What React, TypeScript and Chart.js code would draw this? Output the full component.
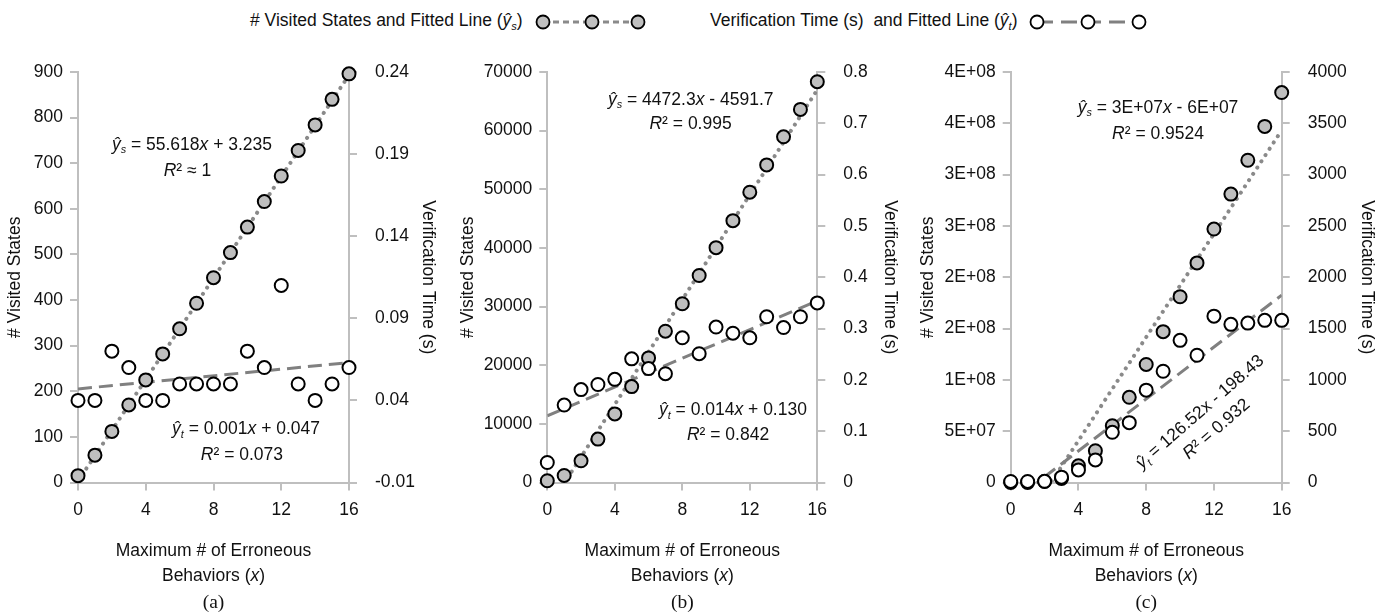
import React, { useEffect, useRef } from 'react';
import { Chart, registerables } from 'chart.js';

Chart.register(...registerables);

const FONT = "'Liberation Sans', Arial, Helvetica, sans-serif";
const SERIF = "'Liberation Serif', 'Times New Roman', serif";

// ---------- data ----------
const xValues = [0, 1, 2, 3, 4, 5, 6, 7, 8, 9, 10, 11, 12, 13, 14, 15, 16];

const statesA = [15, 60, 112, 170, 225, 282, 337, 393, 449, 504, 560, 616, 672, 728, 784, 840, 896];
const timeA = [0.04, 0.04, 0.07, 0.06, 0.04, 0.04, 0.05, 0.05, 0.05, 0.05, 0.07, 0.06, 0.11, 0.05, 0.04, 0.05, 0.06];

const statesB = [300, 1200, 3700, 7400, 11700, 16350, 21250, 25800, 30480, 35300, 40050, 44650, 49500, 54160, 58950, 63620, 68340];
const timeB = [0.039, 0.151, 0.181, 0.191, 0.201, 0.241, 0.222, 0.212, 0.282, 0.251, 0.303, 0.291, 0.282, 0.323, 0.302, 0.323, 0.35];

const statesC = [0, 0, 1e6, 4e6, 1.63e7, 3.1e7, 5.53e7, 8.3e7, 1.15e8, 1.47e8, 1.81e8, 2.14e8, 2.47e8, 2.81e8, 3.14e8, 3.47e8, 3.8e8];
const timeC = [10, 10, 12, 52, 123, 220, 489, 583, 900, 1084, 1385, 1240, 1621, 1541, 1553, 1580, 1580];

// fitted lines: [slope, intercept]
const fitStatesA = [55.618, 3.235];
const fitTimeA = [0.001, 0.047];
const fitStatesB = [4472.3, -4591.7];
const fitTimeB = [0.014, 0.13];
const fitStatesC = [2.52e7, -6.0e7]; // as drawn (label is rounded)
const fitTimeC = [126.52, -198.43];

// tick labels
const xTickLabels = ['0', '4', '8', '12', '16'];
const leftTicksA = ['0', '100', '200', '300', '400', '500', '600', '700', '800', '900'];
const rightTicksA = ['-0.01', '0.04', '0.09', '0.14', '0.19', '0.24'];
const leftTicksB = ['0', '10000', '20000', '30000', '40000', '50000', '60000', '70000'];
const rightTicksB = ['0', '0.1', '0.2', '0.3', '0.4', '0.5', '0.6', '0.7', '0.8'];
const leftTicksC = ['0', '5E+07', '1E+08', '2E+08', '2E+08', '3E+08', '3E+08', '4E+08', '4E+08'];
const rightTicksC = ['0', '500', '1000', '1500', '2000', '2500', '3000', '3500', '4000'];

const leftTitle = '# Visited States';
const rightTitle = 'Verification Time (s)';
const xTitle1 = 'Maximum # of Erroneous';
const captions = ['(a)', '(b)', '(c)'];

type Run = { t: string; i?: boolean; sub?: boolean };
type Note = { runs: Run[]; x: number; y: number; angle?: number };

const eqS = (rest: Run[]): Run[] => [{ t: 'ŷ', i: true }, { t: 's', i: true, sub: true }, ...rest];
const eqT = (rest: Run[]): Run[] => [{ t: 'ŷ', i: true }, { t: 't', i: true, sub: true }, ...rest];
const r2 = (v: string): Run[] => [{ t: 'R', i: true }, { t: v }];

const notesA: Note[] = [
  { runs: eqS([{ t: ' = 55.618' }, { t: 'x', i: true }, { t: ' + 3.235' }]), x: 6.73, y: 743 },
  { runs: r2('² ≈ 1'), x: 6.46, y: 686 },
  { runs: eqT([{ t: ' = 0.001' }, { t: 'x', i: true }, { t: ' + 0.047' }]), x: 9.92, y: 120 },
  { runs: r2('² = 0.073'), x: 9.68, y: 63 },
];
const notesB: Note[] = [
  { runs: eqS([{ t: ' = 4472.3' }, { t: 'x', i: true }, { t: ' - 4591.7' }]), x: 8.5, y: 65520 },
  { runs: r2('² = 0.995'), x: 8.49, y: 61360 },
  { runs: eqT([{ t: ' = 0.014' }, { t: 'x', i: true }, { t: ' + 0.130' }]), x: 11.0, y: 12570 },
  { runs: r2('² = 0.842'), x: 10.71, y: 8300 },
];
const notesC: Note[] = [
  { runs: eqS([{ t: ' = 3E+07' }, { t: 'x', i: true }, { t: ' - 6E+07' }]), x: 8.7, y: 3.662e8 },
  { runs: r2('² = 0.9524'), x: 8.7, y: 3.406e8 },
  { runs: eqT([{ t: ' = 126.52x - 198.43' }]), x: 11.13, y: 6.97e7, angle: -41 },
  { runs: r2('² = 0.932'), x: 12.1, y: 5.31e7, angle: -41 },
];

type Panel = {
  left: number; width: number; plotLeft: number; plotRight: number;
  lTitlePad: number; rTitlePad: number;
  lMax: number; lStep: number; lTicks: string[];
  rMin: number; rMax: number; rStep: number; rTicks: string[];
  states: number[]; time: number[]; fitS: number[]; fitT: number[];
  notes: Note[]; caption: string;
};

const panels: Panel[] = [
  { left: 0, width: 455, plotLeft: 78, plotRight: 349, lTitlePad: 4.5, rTitlePad: 16.2,
    lMax: 900, lStep: 100, lTicks: leftTicksA, rMin: -0.01, rMax: 0.24, rStep: 0.05, rTicks: rightTicksA,
    states: statesA, time: timeA, fitS: fitStatesA, fitT: fitTimeA, notes: notesA, caption: captions[0] },
  { left: 455, width: 460, plotLeft: 92.3, plotRight: 362.3, lTitlePad: 2.8, rTitlePad: 14.5,
    lMax: 70000, lStep: 10000, lTicks: leftTicksB, rMin: 0, rMax: 0.8, rStep: 0.1, rTicks: rightTicksB,
    states: statesB, time: timeB, fitS: fitStatesB, fitT: fitTimeB, notes: notesB, caption: captions[1] },
  { left: 915, width: 473, plotLeft: 95.7, plotRight: 366.7, lTitlePad: 2.8, rTitlePad: 10.8,
    lMax: 4e8, lStep: 5e7, lTicks: leftTicksC, rMin: 0, rMax: 4000, rStep: 500, rTicks: rightTicksC,
    states: statesC, time: timeC, fitS: fitStatesC, fitT: fitTimeC, notes: notesC, caption: captions[2] },
];

const H = 616;
const PLOT_TOP = 72;
const PLOT_BOTTOM = 482.5;
const TEXT = '#111';
const AXIS = '#bfbfbf';

function drawRich(ctx: CanvasRenderingContext2D, runs: Run[], cx: number, cy: number, size: number, angle = 0) {
  ctx.save();
  ctx.translate(cx, cy);
  ctx.rotate((angle * Math.PI) / 180);
  ctx.fillStyle = TEXT;
  ctx.textAlign = 'left';
  ctx.textBaseline = 'alphabetic';
  const fontOf = (r: Run) => `${r.i ? 'italic ' : ''}${r.sub ? size * 0.62 : size}px ${FONT}`;
  const ws = runs.map((r) => { ctx.font = fontOf(r); return ctx.measureText(r.t).width; });
  const total = ws.reduce((a, b) => a + b, 0);
  let x = -total / 2;
  const base = size * 0.36;
  runs.forEach((r, k) => {
    ctx.font = fontOf(r);
    ctx.fillText(r.t, x, base + (r.sub ? size * 0.2 : 0));
    x += ws[k];
  });
  ctx.restore();
}

const pts = (ys: number[]) => xValues.map((x, i) => ({ x, y: ys[i] }));
const fitPts = (f: number[]) => {
  const x0 = xValues[0];
  const x1 = xValues[xValues.length - 1];
  return [{ x: x0, y: f[0] * x0 + f[1] }, { x: x1, y: f[0] * x1 + f[1] }];
};

function makeTextPlugin(p: Panel) {
  return {
    id: 'panelText',
    afterDraw(chart: any) {
      const ctx: CanvasRenderingContext2D = chart.ctx;
      const xs = chart.scales.x;
      const ys = chart.scales.y;
      p.notes.forEach((n) => drawRich(ctx, n.runs, xs.getPixelForValue(n.x), ys.getPixelForValue(n.y), 17.5, n.angle || 0));
      const cx = (chart.chartArea.left + chart.chartArea.right) / 2;
      drawRich(ctx, [{ t: xTitle1 }], cx, 550, 17.5);
      drawRich(ctx, [{ t: 'Behaviors (' }, { t: 'x', i: true }, { t: ')' }], cx, 575, 17.5);
      ctx.save();
      ctx.fillStyle = TEXT;
      ctx.font = `19.5px ${SERIF}`;
      ctx.textAlign = 'center';
      ctx.textBaseline = 'alphabetic';
      ctx.fillText(p.caption, cx, 607.5);
      ctx.restore();
    },
  };
}

function buildConfig(p: Panel): any {
  const grid = { drawOnChartArea: false, drawTicks: true, tickLength: 8, color: AXIS, lineWidth: 2 };
  const border = { display: true, color: AXIS, width: 2 };
  const tickFont = { family: FONT, size: 17.5 };
  const titleFont = { family: FONT, size: 17.5 };
  return {
    type: 'scatter',
    data: {
      datasets: [
        { label: 'time', data: pts(p.time), yAxisID: 'y1', showLine: false, clip: false, order: 0,
          pointRadius: 6.5, pointHoverRadius: 6.5, pointBackgroundColor: '#ffffff', pointBorderColor: '#000000', pointBorderWidth: 2 },
        { label: 'states', data: pts(p.states), yAxisID: 'y', showLine: false, clip: false, order: 1,
          pointRadius: 6.5, pointHoverRadius: 6.5, pointBackgroundColor: '#bfbfbf', pointBorderColor: '#000000', pointBorderWidth: 2 },
        { label: 'fitT', data: fitPts(p.fitT), yAxisID: 'y1', showLine: true, order: 2, pointRadius: 0,
          borderColor: '#808080', borderWidth: 3, borderDash: [14, 7], borderCapStyle: 'butt' },
        { label: 'fitS', data: fitPts(p.fitS), yAxisID: 'y', showLine: true, order: 3, pointRadius: 0,
          borderColor: '#8a8a8a', borderWidth: 4, borderDash: [0.1, 7.4], borderCapStyle: 'round' },
      ],
    },
    options: {
      animation: false,
      responsive: false,
      events: [],
      layout: { padding: { left: 0, right: 0, top: PLOT_TOP, bottom: 0 } },
      plugins: { legend: { display: false }, tooltip: { enabled: false } },
      scales: {
        x: {
          type: 'linear', position: 'bottom', min: 0, max: 16,
          ticks: { stepSize: 4, padding: 9, color: TEXT, font: tickFont, maxRotation: 0,
            callback: (_v: any, i: number) => xTickLabels[i] },
          grid, border,
          afterFit: (s: any) => { s.height = H - PLOT_BOTTOM; },
        },
        y: {
          type: 'linear', position: 'left', min: 0, max: p.lMax,
          ticks: { stepSize: p.lStep, padding: 7, color: TEXT, font: tickFont,
            callback: (_v: any, i: number) => p.lTicks[i] },
          grid, border,
          title: { display: true, text: leftTitle, color: TEXT, font: titleFont, padding: { top: p.lTitlePad, bottom: 0 } },
          afterFit: (s: any) => { s.width = p.plotLeft; },
        },
        y1: {
          type: 'linear', position: 'right', min: p.rMin, max: p.rMax,
          ticks: { stepSize: p.rStep, padding: 18, color: TEXT, font: tickFont,
            callback: (_v: any, i: number) => p.rTicks[i] },
          grid, border,
          title: { display: true, text: rightTitle, color: TEXT, font: titleFont, padding: { top: p.rTitlePad, bottom: 0 } },
          afterFit: (s: any) => { s.width = p.width - p.plotRight; },
        },
      },
    },
    plugins: [makeTextPlugin(p)],
  };
}

const legendText: React.CSSProperties = {
  position: 'absolute', fontFamily: FONT, fontSize: '17.5px', lineHeight: '21px', color: TEXT, whiteSpace: 'pre',
};
const subStyle: React.CSSProperties = { fontSize: '11px', fontStyle: 'italic', position: 'relative', top: '3.5px' };

function Legend() {
  return (
    <>
      <div style={{ ...legendText, left: 250, top: 10.4 }}>
        # Visited States and Fitted Line (<i>ŷ</i><span style={subStyle}>s</span>)
      </div>
      <svg style={{ position: 'absolute', left: 533, top: 12 }} width={118} height={20}>
        <line x1={10} y1={10} x2={105} y2={10} stroke="#8a8a8a" strokeWidth={3} strokeDasharray="6 4" />
        {[10, 59, 105].map((cx) => (
          <circle key={cx} cx={cx} cy={10} r={6.5} fill="#bfbfbf" stroke="#000" strokeWidth={1.8} />
        ))}
      </svg>
      <div style={{ ...legendText, left: 710, top: 10.4 }}>
        Verification Time (s)  and Fitted Line (<i>ŷ</i><span style={subStyle}>t</span>)
      </div>
      <svg style={{ position: 'absolute', left: 1027, top: 12 }} width={124} height={20}>
        <line x1={10} y1={10} x2={112} y2={10} stroke="#808080" strokeWidth={3} strokeDasharray="16 8" />
        {[10, 61, 112].map((cx) => (
          <circle key={cx} cx={cx} cy={10} r={6.5} fill="#ffffff" stroke="#000" strokeWidth={1.8} />
        ))}
      </svg>
    </>
  );
}

export default function App() {
  const refs = useRef<(HTMLCanvasElement | null)[]>([]);
  useEffect(() => {
    const charts = panels.map((p, i) => new Chart(refs.current[i] as HTMLCanvasElement, buildConfig(p)));
    return () => charts.forEach((c) => c.destroy());
  }, []);
  return (
    <div style={{ position: 'fixed', left: 0, top: 0, width: 1388, height: H, background: '#fff', overflow: 'hidden' }}>
      <Legend />
      {panels.map((p, i) => (
        <canvas
          key={i}
          ref={(el) => { refs.current[i] = el; }}
          width={p.width}
          height={H}
          style={{ position: 'absolute', left: p.left, top: 0, width: p.width, height: H, display: 'block' }}
        />
      ))}
    </div>
  );
}
